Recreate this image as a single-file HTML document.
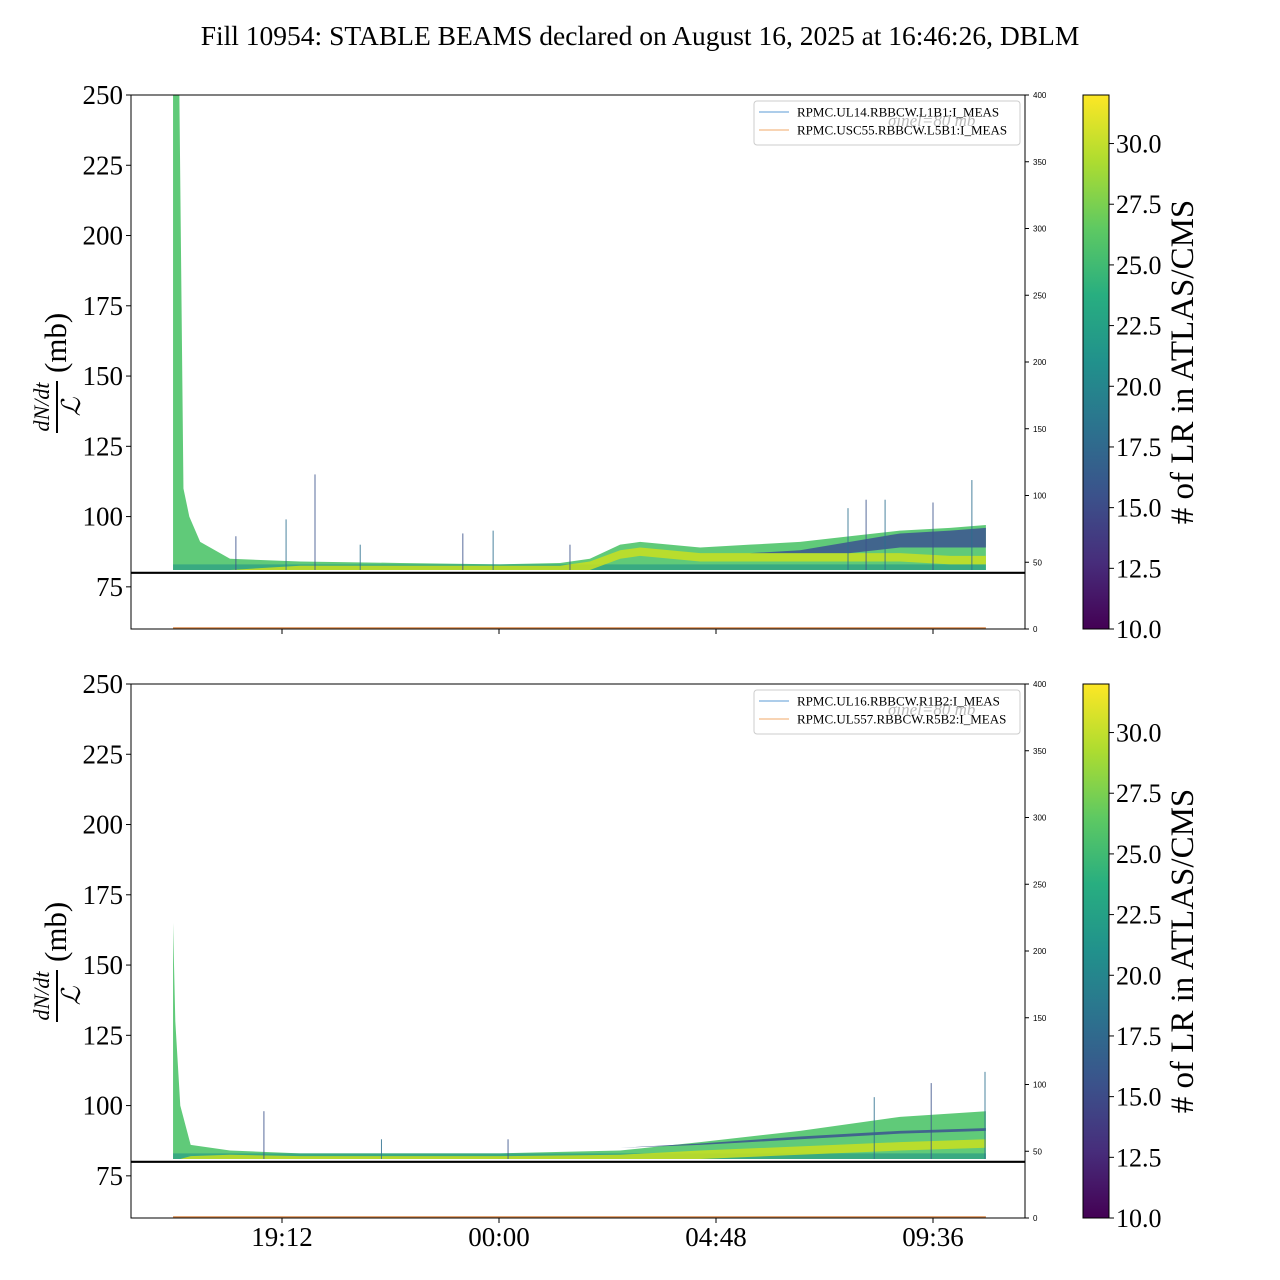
<!DOCTYPE html>
<html><head><meta charset="utf-8">
<style>
html,body{margin:0;padding:0;background:#fff;}
svg{display:block;font-family:"Liberation Serif","DejaVu Serif",serif;}
</style></head>
<body>
<svg id="chart" width="1280" height="1280" viewBox="0 0 1280 1280">
<defs>
<linearGradient id="viridis" x1="0" y1="1" x2="0" y2="0">
<stop offset="0" stop-color="#440154"/><stop offset="0.125" stop-color="#472d7b"/>
<stop offset="0.25" stop-color="#3b528b"/><stop offset="0.375" stop-color="#2c728e"/>
<stop offset="0.5" stop-color="#21918c"/><stop offset="0.625" stop-color="#28ae80"/>
<stop offset="0.75" stop-color="#5ec962"/><stop offset="0.875" stop-color="#addc30"/>
<stop offset="1" stop-color="#fde725"/>
</linearGradient>
</defs>
<text x="640" y="45" text-anchor="middle" font-size="27.5">Fill 10954: STABLE BEAMS declared on August 16, 2025 at 16:46:26, DBLM</text>
<g id="panels"></g>
</svg>
<script>
// ---- data (time in hours since midnight Aug 16; values in mb) ----
const xTickLabels = ["19:12","00:00","04:48","09:36"];
const xTickHours = [19.2, 24.0, 28.8, 33.6];
const yTicks = [75,100,125,150,175,200,225,250];
const rightTicks = [0,50,100,150,200,250,300,350,400];
const cbTicks = [10.0,12.5,15.0,17.5,20.0,22.5,25.0,27.5,30.0];

// Top panel (Beam 1)
const topHours = [16.79,16.93,17.02,17.15,17.39,18.05,19.6,21.81,24.02,25.35,26.01,26.68,27.12,28.45,29.55,30.66,31.76,32.87,33.98,34.77];
const topEnvelope = [250,250,110,100,91,85,84,83.5,83,83.5,85,90,91,89,90,91,93,95,96,97];
const topYellow = [81,81,81,81,81,81,82.5,82.5,82.5,82.5,84,88,89,87,87,87,87,87,86,86];
const topBlueLow = [81,81,81,81,81,81,81,81,81,81,81,81,81,81,87,87,87,89,89,89];
const topBlueHigh = [81,81,81,81,81,81,81,81,81,81,81,81,81,81,87,88,91,94,95,96];
const topSpikeHours = [18.18,19.29,19.93,20.93,23.2,23.87,25.57,31.72,32.12,32.54,33.6,34.46];
const topSpikeValues = [93,99,115,90,94,95,90,103,106,106,105,113];

// Bottom panel (Beam 2)
const botHours = [16.79,16.84,16.95,17.18,18.05,19.6,24.02,26.68,28.45,30.66,32.87,34.77];
const botEnvelope = [165,130,100,86,84,83,83,84,87,91,96,98];
const botYellow = [81,81,81,82,82.5,82,82,82.5,84,85.5,87,88];
const botBlueLow = [81,81,81,81,81,81,81,85,86,88,90,91];
const botBlueHigh = [81,81,81,81,81,81,81,85,86.5,89,91,92];
const botSpikeHours = [18.8,21.4,24.2,32.3,33.56,34.75];
const botSpikeValues = [98,88,88,103,108,112];

const NS="http://www.w3.org/2000/svg";
const root=document.getElementById('panels');
function mk(tag,attrs,parent){const e=document.createElementNS(NS,tag);for(const k in attrs)e.setAttribute(k,attrs[k]);(parent||root).appendChild(e);return e;}

const X0=131,X1=1025;
function xh(h){return 282+(h-19.2)*(217/4.8);}

function panel(top,hours,env,yel,bl,bh,sh,sv,leg,pname){
  const bottom=top+534;
  function y(v){return bottom-(v-60)*(534/190);}
  function yr(v){return bottom-v*(534/400);}
  const g=mk('g',{});
  
  
  const base=y(81);
  function area(upper,lower,fill,op,name){
    let d='M'+xh(hours[0])+','+y(lower[0]);
    for(let i=0;i<hours.length;i++)d+=' L'+xh(hours[i])+','+y(upper[i]);
    for(let i=hours.length-1;i>=0;i--)d+=' L'+xh(hours[i])+','+y(lower[i]);
    const p=mk('path',{d:d+'Z',fill:fill,'fill-opacity':op},g);
    
    
  }
  const flat=hours.map(()=>81);
  area(env,flat,'#4fc46a',0.9,'loss-envelope');
  area(env.map(v=>Math.min(v,83)),flat,'#2a9d85',0.7,'loss-low-band');
  area(yel,flat.map((v,i)=>Math.max(81,yel[i]-3)),'#c9e020',0.85,'loss-yellow-band');
  area(bh,bl,'#3e5a8f',0.9,'loss-blue-band');
  for(let i=0;i<sh.length;i++){
    const l=mk('line',{x1:xh(sh[i]),x2:xh(sh[i]),y1:base,y2:y(sv[i]),stroke:i%2?'#2c6e8e':'#3b528b','stroke-width':1,'stroke-opacity':0.85},g);
    
    
  }
  const th=mk('line',{x1:X0,x2:X1,y1:y(80),y2:y(80),stroke:'#000','stroke-width':2.2},g);
  
  
  const bl0=mk('line',{x1:xh(hours[0]),x2:xh(hours[hours.length-1]),y1:yr(0)-1,y2:yr(0)-1,stroke:'#d9894a','stroke-width':1.5},g);
  
  
  const fr=mk('rect',{x:X0,y:top,width:X1-X0,height:534,fill:'none',stroke:'#000','stroke-width':1},g);
  
  
  for(const v of yTicks){
    const yy=y(v);
    mk('line',{x1:X0-5,x2:X0,y1:yy,y2:yy,stroke:'#000'},g);
    const t=mk('text',{x:X0-8,y:yy+9,'text-anchor':'end','font-size':27},g);
    t.textContent=v;
    
    
  }
  for(const v of rightTicks){
    const yy=yr(v);
    mk('line',{x1:X1,x2:X1+4,y1:yy,y2:yy,stroke:'#000'},g);
    const t=mk('text',{x:X1+8,y:yy+3,'font-size':8,'font-family':'Liberation Sans, sans-serif'},g);
    t.textContent=v;
    
    
  }
  for(let i=0;i<xTickHours.length;i++){
    const xx=xh(xTickHours[i]);
    mk('line',{x1:xx,x2:xx,y1:bottom,y2:bottom+5,stroke:'#000'},g);
    if(top>600){
      const t=mk('text',{x:xx,y:bottom+28,'text-anchor':'middle','font-size':27},g);
      t.textContent=xTickLabels[i];
      
      
    }
  }
  const yl=mk('g',{transform:'translate(60,'+(top+276)+') rotate(-90)'},g);
  
  
  const a=mk('text',{x:-36,y:-11,'text-anchor':'middle','font-size':22,'font-style':'italic'},yl);a.textContent='dN/dt';
  mk('line',{x1:-62,x2:-10,y1:-3,y2:-3,stroke:'#000','stroke-width':2},yl);
  const b=mk('text',{x:-36,y:20,'text-anchor':'middle','font-size':26,'font-style':'italic'},yl);b.textContent='ℒ';
  const c=mk('text',{x:-2,y:6,'font-size':31},yl);c.textContent='(mb)';
  const lg=mk('g',{},g);
  
  
  mk('rect',{x:754,y:top+6,width:266,height:44,rx:3,fill:'#fff','fill-opacity':0.8,stroke:'#ccc'},lg);
  const s=mk('text',{x:888,y:top+31,'font-size':17,fill:'#bbb','font-style':'italic'},lg);s.textContent='σinel=80 mb';
  const cols=['#5b9bd5','#f0a868'];
  for(let i=0;i<2;i++){
    const ly=top+17+i*18;
    const ln=mk('line',{x1:759,x2:789,y1:ly,y2:ly,stroke:cols[i],'stroke-width':1},lg);
    
    
    const t=mk('text',{x:797,y:ly+4.5,'font-size':13},lg);t.textContent=leg[i];
    
    
  }
  const cb=mk('g',{},g);
  
  
  mk('rect',{x:1083,y:top,width:26,height:534,fill:'url(#viridis)',stroke:'#000','stroke-width':1},cb);
  function yc(v){return bottom-(v-10)*(534/22);}
  for(const v of cbTicks){
    const yy=yc(v);
    mk('line',{x1:1109,x2:1114,y1:yy,y2:yy,stroke:'#000'},cb);
    const t=mk('text',{x:1116,y:yy+9,'font-size':26},cb);t.textContent=v.toFixed(1);
    
    
  }
  const ct=mk('text',{x:0,y:0,'text-anchor':'middle','font-size':33,transform:'translate(1193,'+(top+267)+') rotate(-90)'},cb);
  ct.textContent='# of LR in ATLAS/CMS';
  
  
}
panel(95,topHours,topEnvelope,topYellow,topBlueLow,topBlueHigh,topSpikeHours,topSpikeValues,
  ['RPMC.UL14.RBBCW.L1B1:I_MEAS','RPMC.USC55.RBBCW.L5B1:I_MEAS'],'beam1-panel');
panel(684,botHours,botEnvelope,botYellow,botBlueLow,botBlueHigh,botSpikeHours,botSpikeValues,
  ['RPMC.UL16.RBBCW.R1B2:I_MEAS','RPMC.UL557.RBBCW.R5B2:I_MEAS'],'beam2-panel');
</script>
</body></html>
